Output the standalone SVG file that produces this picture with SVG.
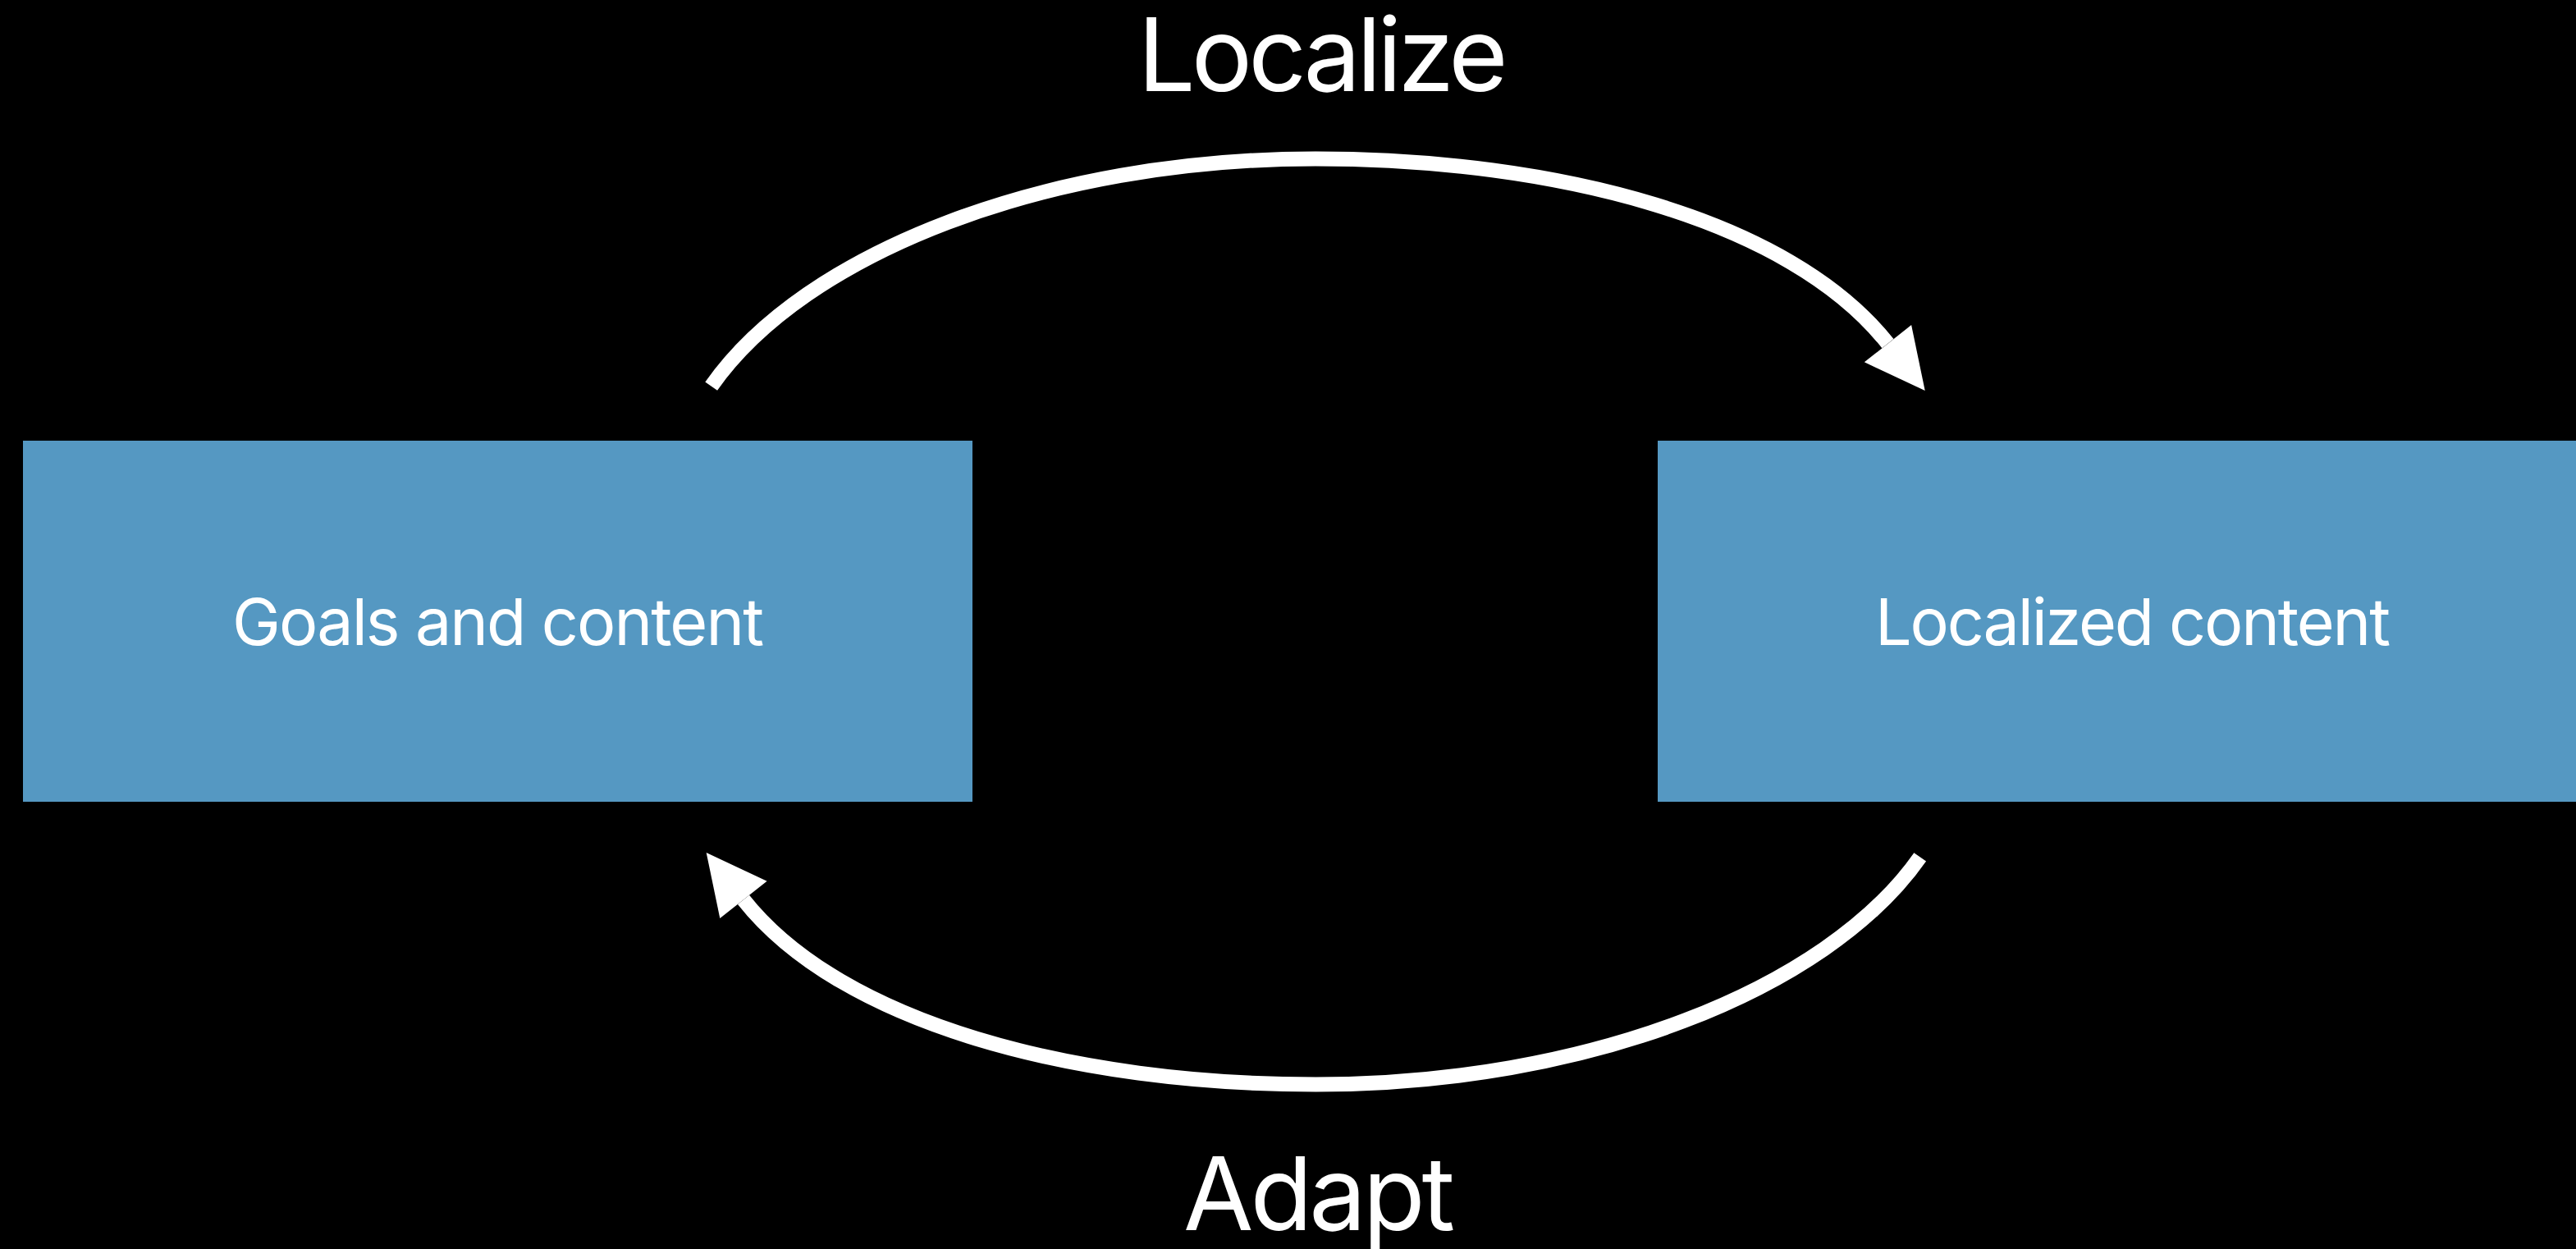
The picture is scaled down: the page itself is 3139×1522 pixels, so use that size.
<svg xmlns="http://www.w3.org/2000/svg" width="3139" height="1522" viewBox="0 0 3139 1522">
  <style>
    .box { fill: #5598C2; }
    .box-label { font-family: Inter, "Noto Sans", "Liberation Sans", sans-serif; font-size: 79px; fill: #FFFFFF; text-anchor: middle; }
    .flow-label { font-family: Inter, "Noto Sans", "Liberation Sans", sans-serif; font-size: 124px; fill: #FFFFFF; text-anchor: middle; }
    .flow { fill: none; stroke: #FFFFFF; stroke-width: 18; stroke-linecap: butt; }
    .head { fill: #FFFFFF; }
  </style>
  <defs>
    <!-- arrowhead pointing along +x, tip at origin -->
    <path id="arrowhead" class="head" d="M 0 0 L -73 -36.5 L -73 36.5 Z"/>
  </defs>

  <rect x="0" y="0" width="3139" height="1522" fill="#000000"/>

  <g id="node-goals">
    <rect class="box" x="28" y="537" width="1157" height="440"/>
    <text class="box-label" x="607" y="786" textLength="648" lengthAdjust="spacing">Goals and content</text>
  </g>

  <g id="node-localized">
    <rect class="box" x="2020" y="537" width="1157" height="440"/>
    <text class="box-label" x="2599" y="786" textLength="628" lengthAdjust="spacing">Localized content</text>
  </g>

  <g id="connectors">
    <g id="edge-localize">
      <path class="flow" d="M 866.7 470.7 C 980.6 307.9 1274.6 193.5 1603 193.5 C 1896.2 193.5 2180.9 267.4 2300.4 418.7"/>
      <use href="#arrowhead" transform="translate(2345.7 476) rotate(51.7)"/>
      <text class="flow-label" x="1612" y="111" textLength="451" lengthAdjust="spacing">Localize</text>
    </g>
    <g id="edge-adapt">
      <path class="flow" d="M 2339.7 1044.3 C 2225.8 1207.1 1931.8 1321.5 1603.4 1321.5 C 1310.2 1321.5 1025.5 1247.6 906 1096.3"/>
      <use href="#arrowhead" transform="translate(860.7 1039) rotate(231.7)"/>
      <text class="flow-label" x="1607.5" y="1499" textLength="331" lengthAdjust="spacing">Adapt</text>
    </g>
  </g>
</svg>
